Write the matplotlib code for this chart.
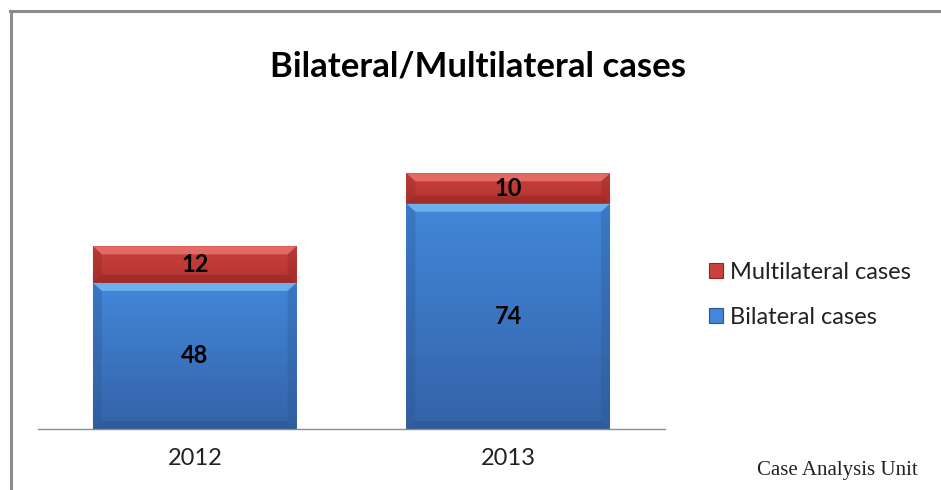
#!/usr/bin/env python

# import libraries
import numpy as np
import matplotlib
matplotlib.use('Agg')
import matplotlib.pyplot as plt
from matplotlib.patches import Polygon, Patch
from matplotlib.lines import Line2D

# chart data
years = ['2012', '2013']
bilateral = [48, 74]
multilateral = [12, 10]
series_names = ['Bilateral cases', 'Multilateral cases']

# colours (top of gradient, bottom of gradient, bevel light, bevel dark)
blue = ('#4287D9', '#3463A8', '#7DBDF5', '#2B5590')
red = ('#C9423D', '#B3332F', '#EE7A74', '#8E2623')

plt.rcParams['font.family'] = ['Lato', 'DejaVu Sans']

fig = plt.figure(figsize=(9.41, 4.90), dpi=100)
ax = fig.add_axes([38 / 941, (490 - 429) / 490, (665 - 38) / 941, 274 / 490])

x = np.arange(len(years))
bars_b = ax.bar(x, bilateral, width=0.65, color=blue[0], zorder=2)
bars_m = ax.bar(x, multilateral, width=0.65, bottom=bilateral, color=red[0], zorder=2)

ax.set_xlim(-0.5, 1.5)
ax.set_ylim(0, 90)

# pixel sizes in data units, for the bevel
px_x = 2.0 / 627
px_y = 90.0 / 274


def shade_bar(bar, cols):
    bx, by = bar.get_x(), bar.get_y()
    bw, bh = bar.get_width(), bar.get_height()
    grad = np.linspace(0, 1, 64).reshape(-1, 1)
    cmap = matplotlib.colors.LinearSegmentedColormap.from_list('g', [cols[1], cols[0]])
    im = ax.imshow(grad, cmap=cmap, extent=(bx, bx + bw, by, by + bh),
                   origin='lower', aspect='auto', zorder=2.1)
    im.set_clip_path(bar)
    dx, dy = 9 * px_x, 8 * px_y
    # top bevel (light)
    ax.add_patch(Polygon([(bx, by + bh), (bx + bw, by + bh), (bx + bw - dx, by + bh - dy),
                          (bx + dx, by + bh - dy)], closed=True, color=cols[2], alpha=0.75,
                         lw=0, zorder=2.2))
    # side bevels (dark)
    ax.add_patch(Polygon([(bx, by), (bx, by + bh), (bx + dx, by + bh - dy), (bx + dx, by + dy)],
                         closed=True, color=cols[3], alpha=0.3, lw=0, zorder=2.2))
    ax.add_patch(Polygon([(bx + bw, by), (bx + bw, by + bh), (bx + bw - dx, by + bh - dy),
                          (bx + bw - dx, by + dy)], closed=True, color=cols[3], alpha=0.3,
                         lw=0, zorder=2.2))
    # bottom bevel (dark)
    ax.add_patch(Polygon([(bx, by), (bx + bw, by), (bx + bw - dx, by + dy), (bx + dx, by + dy)],
                         closed=True, color=cols[3], alpha=0.5, lw=0, zorder=2.2))


for bar in bars_b:
    shade_bar(bar, blue)
for bar in bars_m:
    shade_bar(bar, red)

# value labels
for i in range(len(years)):
    ax.text(x[i], bilateral[i] / 2, str(bilateral[i]), ha='center', va='center',
            fontsize=17, fontweight='bold', color='black', zorder=3)
    ax.text(x[i], bilateral[i] + multilateral[i] / 2, str(multilateral[i]), ha='center',
            va='center', fontsize=17, fontweight='bold', color='black', zorder=3)

# axes styling
for side in ['top', 'right', 'left']:
    ax.spines[side].set_visible(False)
ax.spines['bottom'].set_color('#8c8c8c')
ax.spines['bottom'].set_linewidth(1.0)
ax.set_yticks([])
ax.set_xticks(x)
ax.set_xticklabels(years, fontsize=17, color='#222222')
ax.tick_params(axis='x', length=0, pad=14)

# title
fig.text(478 / 941, 1 - 66 / 490, 'Bilateral/Multilateral cases', ha='center', va='center',
         fontsize=25, fontweight='bold', color='black')

# legend
handles = [Patch(facecolor=red[0], edgecolor=red[3], linewidth=0.8),
           Patch(facecolor=blue[0], edgecolor=blue[3], linewidth=0.8)]
fig.legend(handles, [series_names[1], series_names[0]], loc='center left',
           bbox_to_anchor=(688 / 941, 1 - 295 / 490), frameon=False, fontsize=17,
           handlelength=0.6, handleheight=0.6, handletextpad=0.3, labelspacing=1.0,
           labelcolor='#222222')

# footer
fig.text(918 / 941, 1 - 470 / 490, 'Case Analysis Unit', ha='right', va='center',
         fontsize=15, family=['Liberation Serif', 'DejaVu Serif'], color='#222222')

# outer border (top and left only)
fig.add_artist(Line2D([10.5 / 941, 10.5 / 941], [0, 1 - 11 / 490], color='#8c8c8c',
                      linewidth=2.2, transform=fig.transFigure))
fig.add_artist(Line2D([9.5 / 941, 1], [1 - 11 / 490, 1 - 11 / 490], color='#8c8c8c',
                      linewidth=2.2, transform=fig.transFigure))

plt.savefig('out.png', dpi=100)
